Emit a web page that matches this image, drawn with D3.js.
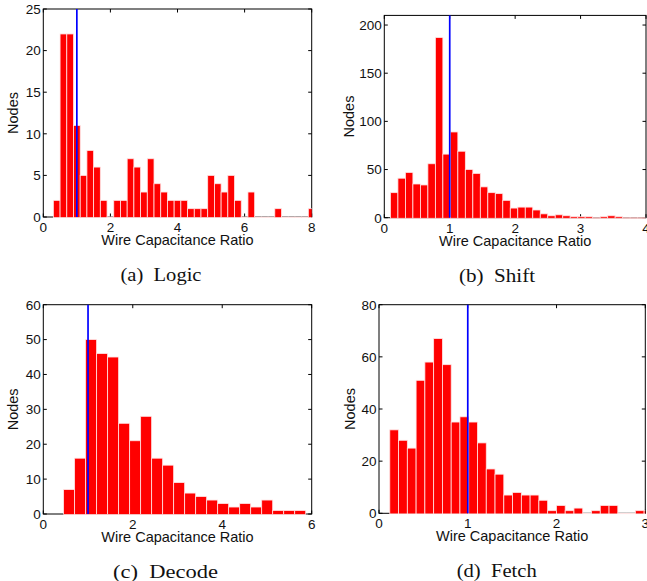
<!DOCTYPE html>
<html>
<head>
<meta charset="utf-8">
<script src="https://cdn.jsdelivr.net/npm/d3@7"></script>
<style>
  html, body { margin: 0; padding: 0; background: #fff; }
  svg { display: block; }
  .tick-label { font-family: "Liberation Sans", Arial, Helvetica, sans-serif; font-size: 13.5px; fill: #111; }
  .axis-label { font-family: "Liberation Sans", Arial, Helvetica, sans-serif; font-size: 14.5px; fill: #111; }
  .caption { font-family: "Liberation Serif", "Times New Roman", serif; font-size: 18px; fill: #111; white-space: pre; }
</style>
</head>
<body>
<svg id="chart" width="647" height="581"></svg>
<script>
// Histogram counts of nodes per wire-capacitance-ratio bin, one array per design block.
const logicCounts = [2, 22, 22, 11, 5, 8, 6, 2, 0, 2, 2, 7, 6, 3, 7, 4, 3, 2, 2, 2,
                     1, 1, 1, 5, 4, 3, 5, 2, 0, 3, 0, 0, 0, 1, 0, 0, 0, 0, 1];
const shiftCounts  = [26, 41, 47, 35, 34, 56, 187, 66, 89, 69, 50, 46, 32, 26, 25, 18, 10,
                      11, 11, 8, 4, 2, 3, 2, 1, 1, 1, 0, 1, 2, 1, 0, 0, 0];
const decodeCounts = [7, 16, 50, 46, 45, 26, 21, 28, 16, 14, 9, 6, 5, 4, 3, 2, 3, 2, 4, 1, 1, 1];
const fetchCounts  = [32, 28, 25, 51, 58, 67, 57, 35, 37, 35, 27, 17, 15, 7, 8, 7, 7, 5,
                      1, 3, 1, 2, 0, 1, 3, 3, 0, 0, 1, 1];

// Bin layout: centre of the first bin and bin width.
const logicBins  = { first: 0.4,   width: 0.2 };
const shiftBins  = { first: 0.151, width: 0.1145 };
const decodeBins = { first: 0.577, width: 0.246 };
const fetchBins  = { first: 0.171, width: 0.0988 };

// Axis ranges and tick values.
const logicXTicks  = [0, 2, 4, 6, 8];      const logicYTicks  = [0, 5, 10, 15, 20, 25];
const shiftXTicks  = [0, 1, 2, 3, 4];      const shiftYTicks  = [0, 50, 100, 150, 200];
const decodeXTicks = [0, 2, 4, 6];         const decodeYTicks = [0, 10, 20, 30, 40, 50, 60];
const fetchXTicks  = [0, 1, 2, 3];         const fetchYTicks  = [0, 20, 40, 60, 80];
const logicDomain  = { x: [0, 8], y: [0, 25] };
const shiftDomain  = { x: [0, 4], y: [0, 210] };
const decodeDomain = { x: [0, 6], y: [0, 60] };
const fetchDomain  = { x: [0, 3], y: [0, 80] };

// Nominal ratio marker.
const referenceRatio = 1;

const xLabel = "Wire Capacitance Ratio";
const yLabel = "Nodes";
const captions = ["(a)  Logic", "(b)  Shift", "(c)  Decode", "(d)  Fetch"];

const svg = d3.select("#chart");

const panels = [
  { id: "logic",  counts: logicCounts,  bins: logicBins,  dom: logicDomain,  xt: logicXTicks,  yt: logicYTicks,
    box: { l: 43.3, r: 311.7, t: 9, b: 217 },     ylabX: 18.3,
    cap: { x: 161, y: 281, w: 81, text: captions[0] } },
  { id: "shift",  counts: shiftCounts,  bins: shiftBins,  dom: shiftDomain,  xt: shiftXTicks,  yt: shiftYTicks,
    box: { l: 384.3, r: 646, t: 15.4, b: 217.7 }, ylabX: 354,
    cap: { x: 497, y: 281.5, w: 76, text: captions[1] } },
  { id: "decode", counts: decodeCounts, bins: decodeBins, dom: decodeDomain, xt: decodeXTicks, yt: decodeYTicks,
    box: { l: 43.3, r: 311.7, t: 304.7, b: 514 }, ylabX: 18.3,
    cap: { x: 165.5, y: 578, w: 105, text: captions[2] } },
  { id: "fetch",  counts: fetchCounts,  bins: fetchBins,  dom: fetchDomain,  xt: fetchXTicks,  yt: fetchYTicks,
    box: { l: 379, r: 645.3, t: 304.7, b: 513.3 }, ylabX: 355,
    cap: { x: 496.7, y: 577, w: 80, text: captions[3] } }
];

const tickLen = 3.5;

panels.forEach(p => {
  const { l, r, t, b } = p.box;
  const x = d3.scaleLinear().domain(p.dom.x).range([l, r]);
  const y = d3.scaleLinear().domain(p.dom.y).range([b, t]);
  const g = svg.append("g").attr("class", "panel-" + p.id);

  // Frame and inward ticks on all four sides
  g.append("rect")
    .attr("x", l).attr("y", t).attr("width", r - l).attr("height", b - t)
    .attr("fill", "none").attr("stroke", "#000").attr("stroke-width", 1);

  const ticks = g.append("g").attr("stroke", "#000").attr("stroke-width", 1);
  p.yt.forEach(v => {
    ticks.append("line").attr("x1", l).attr("x2", l + tickLen).attr("y1", y(v)).attr("y2", y(v));
    ticks.append("line").attr("x1", r).attr("x2", r - tickLen).attr("y1", y(v)).attr("y2", y(v));
  });
  p.xt.forEach(v => {
    ticks.append("line").attr("x1", x(v)).attr("x2", x(v)).attr("y1", b).attr("y2", b - tickLen);
    ticks.append("line").attr("x1", x(v)).attr("x2", x(v)).attr("y1", t).attr("y2", t + tickLen);
  });

  // Bars, clipped to the plotting area
  const clipId = "clip-" + p.id;
  svg.append("clipPath").attr("id", clipId)
    .append("rect").attr("x", l).attr("y", t).attr("width", r - l).attr("height", b - t + 1);

  const bars = p.counts.map((c, i) => ({ c, centre: p.bins.first + i * p.bins.width }));
  g.append("g").attr("clip-path", `url(#${clipId})`)
    .selectAll("rect")
    .data(bars)
    .join("rect")
    .attr("x", d => x(d.centre - p.bins.width / 2))
    .attr("width", d => x(d.centre + p.bins.width / 2) - x(d.centre - p.bins.width / 2))
    .attr("y", d => y(d.c))
    .attr("height", d => y(0) - y(d.c) + 0.6)
    .attr("fill", "#ff0000")
    .attr("stroke", "#ffe4e4")
    .attr("stroke-width", 0.8);

  // Vertical marker at ratio = 1
  g.append("line")
    .attr("x1", x(referenceRatio)).attr("x2", x(referenceRatio))
    .attr("y1", y(p.dom.y[0])).attr("y2", y(p.dom.y[1]))
    .attr("stroke", "#0000ff").attr("stroke-width", 1.7);

  // Tick labels
  g.selectAll("text.ytick").data(p.yt).join("text")
    .attr("class", "tick-label ytick")
    .attr("x", l - 2.5).attr("y", d => y(d)).attr("dy", "0.36em")
    .attr("text-anchor", "end")
    .text(d => d);
  g.selectAll("text.xtick").data(p.xt).join("text")
    .attr("class", "tick-label xtick")
    .attr("x", d => x(d)).attr("y", b + 15)
    .attr("text-anchor", "middle")
    .text(d => d);

  // Axis titles
  g.append("text").attr("class", "axis-label")
    .attr("x", (l + r) / 2).attr("y", b + 28)
    .attr("text-anchor", "middle")
    .text(xLabel);
  g.append("text").attr("class", "axis-label")
    .attr("transform", `translate(${p.ylabX},${(t + b) / 2}) rotate(-90)`)
    .attr("text-anchor", "middle")
    .text(yLabel);

  // Sub-figure caption
  g.append("text").attr("class", "caption")
    .attr("x", p.cap.x - p.cap.w / 2).attr("y", p.cap.y)
    .attr("textLength", p.cap.w).attr("lengthAdjust", "spacingAndGlyphs")
    .text(p.cap.text);
});
</script>
</body>
</html>
